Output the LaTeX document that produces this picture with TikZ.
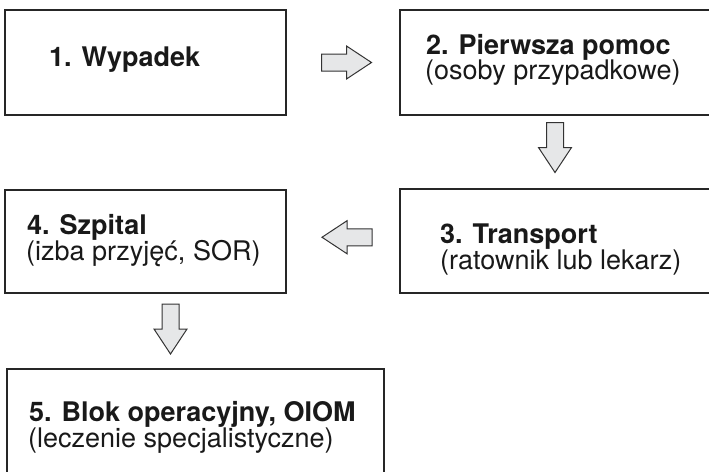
\documentclass[tikz,border=0pt]{standalone}
\usepackage{fontspec}
\setmainfont{TeX Gyre Heros}
\usetikzlibrary{calc}
\definecolor{boxline}{HTML}{262626}
\definecolor{arrfill}{HTML}{E6E7E8}
\definecolor{arrline}{HTML}{333333}
\begin{document}
\begin{tikzpicture}[x=1pt,y=-1pt,
  box/.style={draw=boxline,line width=1.6pt,rectangle,inner sep=0pt,fill=white},
  ttl/.style={anchor=base west,inner sep=0pt,font=\fontsize{27}{27}\selectfont\bfseries,text=black!90},
  sub/.style={anchor=base west,inner sep=0pt,font=\fontsize{27}{27}\selectfont,text=black!90},
  barrow/.pic={\draw[fill=arrfill,draw=arrline,line width=1pt,line join=miter]
    (-25,-8.5) -- (0,-8.5) -- (0,-16.5) -- (25,0) -- (0,16.5) -- (0,8.5) -- (-25,8.5) -- cycle;}
]
\useasboundingbox (0,0) rectangle (709,471);
\clip (0,0) rectangle (709,471);
\fill[white] (0,0) rectangle (709,471);
% boxes
\node[box,minimum width=281pt,minimum height=105pt] (b1) at (145.5,62.5) {};
\node[box,minimum width=310pt,minimum height=105pt] (b2) at (555,62.5) {};
\node[box,minimum width=310pt,minimum height=104pt] (b3) at (555,241) {};
\node[box,minimum width=281pt,minimum height=103pt] (b4) at (145.5,241.5) {};
\node[box,minimum width=377pt,minimum height=105pt] (b5) at (195.5,421.5) {};
% texts
\node[ttl] (t1) at (49,66) {1. Wypadek};
\node[ttl] (t2a) at (426,54) {2. Pierwsza pomoc};
\node[sub] (t2b) at (425,79.5) {(osoby przypadkowe)};
\node[ttl] (t3a) at (440,243) {3. Transport};
\node[sub] (t3b) at (440,269.5) {(ratownik lub lekarz)};
\node[ttl] (t4a) at (27,234) {4. Szpital};
\node[sub] (t4b) at (26,260) {(izba przyjęć, SOR)};
\node[ttl] (t5a) at (29,421) {5. Blok operacyjny, OIOM};
\node[sub] (t5b) at (28,447.5) {(leczenie specjalistyczne)};
% block arrows
\path ($(b1.east)!0.5!(b2.west)$) ++(3.5,0) pic {barrow};
\path ($(b2.south)!0.5!(b3.north)$) ++(0,-4.5) pic[rotate=-90] {barrow};
\path ($(b3.west)!0.5!(b4.east)$) ++(4,-4) pic[rotate=180] {barrow};
\path ($(b4.south)!0.5!(b5.north)$) ++(0,-2) pic[rotate=-90] {barrow};
\end{tikzpicture}
\end{document}
